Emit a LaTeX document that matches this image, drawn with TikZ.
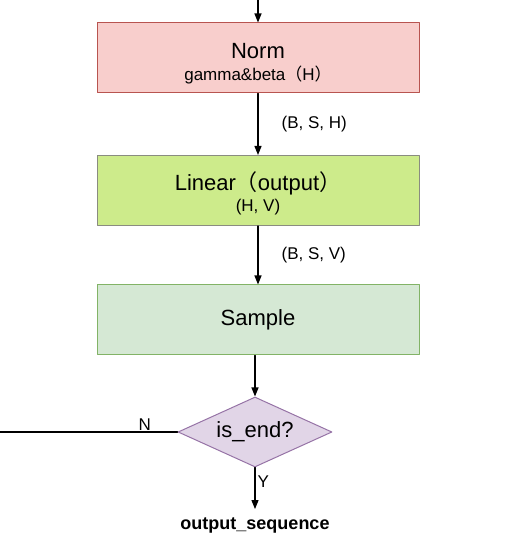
\documentclass[tikz,border=0pt]{standalone}
\usepackage{fontspec}
\setmainfont{Liberation Sans}
\newfontfamily\cjk{Noto Sans CJK SC}
\usetikzlibrary{arrows.meta,shapes.geometric,positioning}

\definecolor{normfill}{HTML}{F8CECC}
\definecolor{normline}{HTML}{B85450}
\definecolor{linfill}{HTML}{CDEB8B}
\definecolor{linline}{HTML}{8A8C80}
\definecolor{smpfill}{HTML}{D5E8D4}
\definecolor{smpline}{HTML}{82B366}
\definecolor{endfill}{HTML}{E1D5E7}
\definecolor{endline}{HTML}{9673A6}

\newcommand{\bigtxt}{\fontsize{22}{24}\selectfont}
\newcommand{\smalltxt}{\fontsize{17}{19}\selectfont}

\tikzset{
  block/.style={draw, line width=1pt, minimum width=322pt, minimum height=70pt,
    inner sep=0pt, align=center, font=\bigtxt},
  flow/.style={-{Triangle[length=9pt,width=7pt]}, line width=1.2pt},
  dimlbl/.style={anchor=west, xshift=22pt, font=\smalltxt, inner sep=1pt},
}

\begin{document}
\begin{tikzpicture}[x=1pt,y=1pt,line cap=round,line join=round]
  \useasboundingbox (0,0) rectangle (512,549);
  \coordinate (in) at (258,549);
  \node[block, fill=normfill, draw=normline] (norm) at (258,491)
    {\rule{0pt}{26pt}Norm\\[-2pt]{\smalltxt gamma\&beta{\cjk （}H{\cjk ）}}};
  \node[block, fill=linfill, draw=linline] (linear) at (258,358.5)
    {\rule{0pt}{24pt}Linear{\cjk （}output{\cjk ）}\\[-3pt]{\smalltxt (H, V)}};
  \node[block, fill=smpfill, draw=smpline] (sample) at (258,229) {Sample};
  \node[diamond, draw=endline, fill=endfill, line width=1pt, aspect=2.2,
    minimum width=154pt, minimum height=70pt, inner sep=0pt, font=\bigtxt] (isend) at (255,117) {is\_end?};
  \node[font=\fontsize{18}{20}\selectfont\bfseries, inner sep=2pt] (outseq) at (255,24) {output\_sequence};
  \coordinate (loop) at (0,117);

  \draw[flow] (in) -- (norm.north);
  \draw[flow] (norm) -- node[dimlbl] (bsh) {(B, S, H)} (linear);
  \draw[flow] (linear) -- node[dimlbl] (bsv) {(B, S, V)} (sample);
  \draw[flow] (sample.south -| isend) -- (isend.north);
  \draw[line width=1.2pt] (isend.west) -- node[pos=0.185, above, inner sep=1pt, font=\smalltxt] (nlbl) {N} (loop);
  \draw[flow] (isend.south) -- node[pos=0.34, right, inner sep=2pt, font=\smalltxt] (ylbl) {Y} ([yshift=6pt]outseq.north);
\end{tikzpicture}
\end{document}
